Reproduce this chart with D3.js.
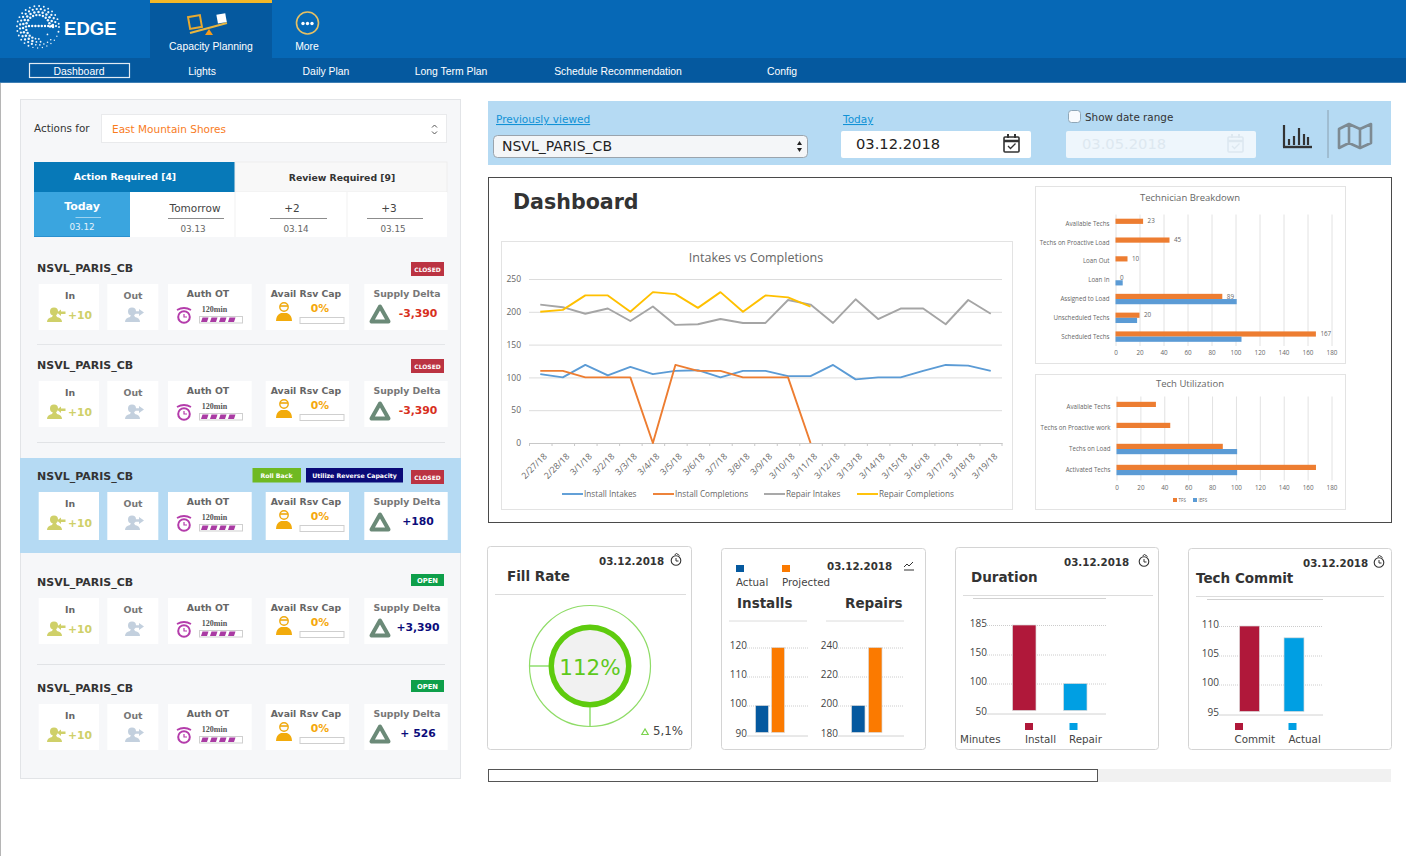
<!DOCTYPE html>
<html><head><meta charset="utf-8">
<script src="https://cdn.jsdelivr.net/npm/d3@7/dist/d3.min.js"></script>
<style>
html,body{margin:0;padding:0;background:#fff;overflow:hidden}
svg{display:block}
.axis text{font-family:"Open Sans",sans-serif}
</style></head><body><svg id="c" width="1406" height="856" viewBox="0 0 1406 856"></svg>
<script>
// ---------- data ----------
const dates=["2/27/18","2/28/18","3/1/18","3/2/18","3/3/18","3/4/18","3/5/18","3/6/18","3/7/18","3/8/18","3/9/18","3/10/18","3/11/18","3/12/18","3/13/18","3/14/18","3/15/18","3/16/18","3/17/18","3/18/18","3/19/18"];
const installIntakes=[105,100,119,103,116,105,110,111,100,110,110,102,102,119,97,100,100,110,119,118,110];
const installCompletions=[110,110,100,100,100,0,119,110,110,100,100,100,0];
const repairIntakes=[211,207,197,205,186,208,180,181,189,183,183,218,211,183,219,189,205,205,181,218,197];
const repairCompletions=[200,203,225,225,200,230,227,206,230,200,225,222,208];
const lineNames=["Install Intakes","Install Completions","Repair Intakes","Repair Completions"];
const lineTicks=[0,50,100,150,200,250];

const breakdownCats=["Available Techs","Techs on Proactive Load","Loan Out","Loan In","Assigned to Load","Unscheduled Techs","Scheduled Techs"];
const breakdownTFS=[23,45,10,0,89,20,167];
const breakdownIEFS=[null,null,null,6,101,18,105];
const utilCats=["Available Techs","Techs on Proactive work","Techs on Load","Activated Techs"];
const utilTFS=[33,45,89,167];
const utilIEFS=[null,null,101,101];
const hTicks=[0,20,40,60,80,100,120,140,160,180];

const fillRate=112;
const fillDelta="5,1%";
const installsTicks=[90,100,110,120], installsVals=[100,120];
const repairsTicks=[180,200,220,240], repairsVals=[200,240];
const durationTicks=[50,100,150,185], durationVals=[185,100], durationCats=["Install","Repair"];
const commitTicks=[95,100,105,110], commitVals=[110,108], commitCats=["Commit","Actual"];

const rowDeltas=["-3,390","-3,390","+180","+3,390","+ 526"];
const rowStatus=["CLOSED","CLOSED","CLOSED","OPEN","OPEN"];
const dayTabs=["Tomorrow","+2","+3"];
const dayDates=["03.13","03.14","03.15"];
const navTop=["Capacity Planning","More"];
const navSub=["Dashboard","Lights","Daily Plan","Long Term Plan","Schedule Recommendation","Config"];

// ---------- helpers ----------
const V='"DejaVu Sans",Verdana,sans-serif', A='"Liberation Sans",Arial,sans-serif', O='"Open Sans",sans-serif';
const svg=d3.select("#c");
function R(p,x,y,w,h,fill,stroke,rx){const r=p.append("rect").attr("x",x).attr("y",y).attr("width",w).attr("height",h).attr("fill",fill||"none");if(stroke)r.attr("stroke",stroke);if(rx)r.attr("rx",rx);return r}
function T(p,x,y,s,size,fill,o){o=o||{};return p.append("text").attr("x",x).attr("y",y).text(s).attr("font-size",size).attr("fill",fill).attr("font-family",o.f||V).attr("font-weight",o.b?"bold":"normal").attr("text-anchor",o.a||"start")}
function L(p,x1,y1,x2,y2,c,w){return p.append("line").attr("x1",x1).attr("y1",y1).attr("x2",x2).attr("y2",y2).attr("stroke",c).attr("stroke-width",w||1)}

// ---------- page frame ----------
L(svg,0.5,82,0.5,856,"#b5b5b5",1);
R(svg,0,0,1406,58,"#0668b6");
R(svg,0,58,1406,24,"#05599f");
L(svg,0,82.5,1406,82.5,"#3f7fb4",1);
R(svg,150,0,122,58,"#05599f");
R(svg,150,0,122,3,"#f4b728");

// logo: dotted "e" globe
const logo=svg.append("g").attr("transform","translate(38,27)");
[[21,.95],[18,1.15],[15,1.25],[12,1.2]].forEach(([r,s],ri)=>{
  d3.range(0,360,ri<2?13:16).forEach(a0=>{
    const a=a0+(ri%2)*6;
    const nearGap=a>2&&a<38;
    if(nearGap&&ri>0)return;
    if(a>38&&a<75&&ri>1)return;
    const rad=a*Math.PI/180;
    logo.append("circle").attr("cx",r*Math.cos(rad)).attr("cy",r*Math.sin(rad))
      .attr("r",a>20&&a<110?s*.72:s).attr("fill","#fff").attr("opacity",.95);
  });
});
d3.range(0,8).forEach(j=>logo.append("circle").attr("cx",-9+j*3.2).attr("cy",-1).attr("r",1.2).attr("fill","#fff"));
T(svg,64,35,"EDGE",18.6,"#fff",{f:A,b:1});

// capacity icon
const ci=svg.append("g");
L(ci,190,33,227,23,"#e8b53f",2.2);
R(ci,189,16,12,12,"none","#e8a92f").attr("stroke-width",2).attr("transform","rotate(-10 195 22)");
R(ci,217,14,9,9,"#fff").attr("transform","rotate(-10 221 18)");
ci.append("path").attr("d","M205 35 l4 -6 l4 6z").attr("fill","#f49b1c");
T(svg,211,50,navTop[0],10.4,"#fff",{f:A,a:"middle"});
svg.append("circle").attr("cx",307.5).attr("cy",23).attr("r",11).attr("fill","none").attr("stroke","#e6c063").attr("stroke-width",1.6);
[-4.5,0,4.5].forEach(d=>svg.append("circle").attr("cx",307.5+d).attr("cy",23.5).attr("r",1.7).attr("fill","#fff"));
T(svg,307,50,navTop[1],10.4,"#fff",{f:A,a:"middle"});
const subX=[79,202,326,451,618,782];
navSub.forEach((s,i)=>T(svg,subX[i],74.5,s,10.4,"#fff",{f:A,a:"middle"}));
R(svg,29.5,63.5,100,14,"none","#e2ebf3").attr("stroke-width",1.2);

// ---------- left panel ----------
R(svg,20.5,99.5,440,679,"#f6f7f9","#e2e4e7");
T(svg,34,132,"Actions for",10.4,"#333");
R(svg,101.5,114.5,345,28,"#fff","#e9eaec");
T(svg,112,132.5,"East Mountain Shores",10.5,"#f97c1e");
svg.append("path").attr("d","M432 127.5 l2.5 -2.5 l2.5 2.5 M432 131.5 l2.5 2.5 l2.5 -2.5").attr("fill","none").attr("stroke","#555").attr("stroke-width",1);
R(svg,34,162,201,30,"#0779b8");
T(svg,125,180,"Action Required [4]",9.3,"#fff",{b:1,a:"middle"});
R(svg,235,162,212,30,"#f8f8f8","#eeeeee");
T(svg,342,181,"Review Required [9]",9.3,"#333",{b:1,a:"middle"});
R(svg,34,192,413,45,"#fff");
R(svg,34,192,96,45,"#3aa5df");
L(svg,34,236.5,130,236.5,"#2a90cf",1);
T(svg,82,210,"Today",11,"#fff",{b:1,a:"middle"});
L(svg,75.5,217.5,101,217.5,"#9ed3f0",1);
T(svg,82,230,"03.12",8.8,"#e4f3fb",{a:"middle"});
L(svg,235,192,235,237,"#f1f1f1",1);L(svg,347,192,347,237,"#f1f1f1",1);
const dayC=[195,292,389], dayL=[[168,224],[270,327],[367,423]], dayD=[193,296,393];
dayTabs.forEach((s,i)=>{
  T(svg,dayC[i],212,s,10.5,"#444",{a:"middle"});
  L(svg,dayL[i][0],218.5,dayL[i][1],218.5,"#8c8c8c",1);
  T(svg,dayD[i],231.5,dayDates[i],8.8,"#666",{a:"middle"});
});
L(svg,37,344.5,445,344.5,"#e4e6e9",1);
L(svg,37,442.5,445,442.5,"#e1e3e6",1);
L(svg,37,664.5,445,664.5,"#e1e3e6",1);
R(svg,20,458,441,95,"#b5daf3");

function personIcon(g,x,y,c,arrowDir){
  g.append("circle").attr("cx",x+8).attr("cy",y+4.5).attr("r",4).attr("fill",c);
  g.append("path").attr("d",`M${x+1} ${y+15} q0 -4 5 -5 l1 -2 h3 l1 2 q5 1 5 5z`).attr("fill",c);
  const ax=x+11;
  g.append("path").attr("d",arrowDir<0
    ?`M${ax} ${y+5.5} l4 -3 v2 h4.5 v2.4 h-4.5 v2z`
    :`M${ax} ${y+4.3} h4 v-2.4 l5 3.6 l-5 3.6 v-2.4 h-4z`).attr("fill",c);
}
function clockIcon(g,x,y){
  g.append("circle").attr("cx",x).attr("cy",y).attr("r",5.8).attr("fill","#fff").attr("stroke","#b43cab").attr("stroke-width",2);
  g.append("path").attr("d",`M${x-7} ${y-7} q7 -4 14 0`).attr("fill","none").attr("stroke","#b43cab").attr("stroke-width",1.8);
  g.append("path").attr("d",`M${x} ${y-3} v3 h3`).attr("fill","none").attr("stroke","#b43cab").attr("stroke-width",1.2);
}
function amberPerson(g,x,y){
  g.append("circle").attr("cx",x).attr("cy",y-5).attr("r",4.2).attr("fill","#fbfbfb").attr("stroke","#efa90d").attr("stroke-width",1.4);
  g.append("path").attr("d",`M${x-8} ${y+9} q0 -6 5 -8 h6 q5 2 5 8z`).attr("fill","#f2ab0c");
  g.append("path").attr("d",`M${x-4} ${y-6} h8`).attr("stroke","#efa90d").attr("stroke-width",1.6);
}
const rowTop=[284,381,492,598,704], rowH=[46,46,48,46,46];
rowTop.forEach((t,i)=>{
  const g=svg.append("g");
  T(g,37,t-12.5,"NSVL_PARIS_CB",11,"#333",{b:1});
  const st=rowStatus[i], closed=st==="CLOSED";
  R(g,411,t-(closed?22:24),33,closed?14:12,closed?"#bb3342":"#0e9f4a");
  T(g,427.5,t-(closed?12.5:15),st,closed?6:6.8,"#fff",{b:1,a:"middle"});
  if(i===2){
    R(g,252.5,t-24,48.5,14.5,"#6fb922");
    T(g,276.5,t-14.5,"Roll Back",6.2,"#fff",{b:1,a:"middle"});
    R(g,306,t-24,97,14.5,"#0a0a78");
    T(g,354.5,t-14.5,"Utilize Reverse Capacity",6.2,"#fff",{b:1,a:"middle"});
  }
  const h=rowH[i];
  [[38.7,60.3],[107.3,51],[168,83.7],[265.7,83.3],[364.3,83.4]].forEach(b=>R(g,b[0],t,b[1],h,"#fff"));
  T(g,70,t+15,"In",9.3,"#666",{b:1,a:"middle"});
  T(g,133,t+15,"Out",9.3,"#777",{b:1,a:"middle"});
  T(g,208,t+13,"Auth OT",9.3,"#666",{b:1,a:"middle"});
  T(g,306,t+13,"Avail Rsv Cap",9.3,"#666",{b:1,a:"middle"});
  T(g,407,t+13,"Supply Delta",9.3,"#777",{b:1,a:"middle"});
  personIcon(g,46,t+23,"#cfd069",-1);
  T(g,68,t+35,"+10",10.8,"#cfd069",{b:1});
  personIcon(g,124,t+23,"#c3d0de",1);
  clockIcon(g,184,t+33);
  T(g,214.5,t+27.5,"120min",8,"#555",{f:'"Liberation Serif",serif',b:1,a:"middle"});
  R(g,199.5,t+32.5,43,6.5,"#fff","#cfcfcf");
  d3.range(4).forEach(k=>g.append("path").attr("d",`M${201+k*9} ${t+38} l1.5 -4.5 h6 l-1.5 4.5z`).attr("fill","#a93ba3"));
  amberPerson(g,284,t+28);
  T(g,320,t+28,"0%",10.8,"#f5a80c",{b:1,a:"middle"});
  R(g,300,t+33.5,44,6,"#fff","#cfcfcf");
  g.append("path").attr("d",`M380 ${t+22.5} l-8.5 15 h17z`).attr("fill","none").attr("stroke","#6b8a78").attr("stroke-width",4).attr("stroke-linejoin","round");
  T(g,418,t+33,rowDeltas[i],10.8,i<2?"#d8301e":"#0b0b7a",{b:1,a:"middle"});
});

// ---------- filter bar ----------
R(svg,488,101,903,64,"#b5daf3");
T(svg,496,123,"Previously viewed",10.5,"#1192d6").attr("text-decoration","underline");
R(svg,493.5,135.5,314,22,"#f4f6f8","#9aa4ad",4);
T(svg,502,151,"NSVL_PARIS_CB",14,"#222");
svg.append("path").attr("d","M797 145 l2.5 -4 l2.5 4z M797 148 l2.5 4 l2.5 -4z").attr("fill","#222");
T(svg,843,123,"Today",10.5,"#1192d6").attr("text-decoration","underline");
R(svg,841,131,190,27,"#fff",null,2);
T(svg,856,149,"03.12.2018",14.7,"#222");
const cal=(x,c,o)=>{const g=svg.append("g").attr("opacity",o);R(g,x,137,15,15,"none",c,1).attr("stroke-width",1.6);L(g,x,141,x+15,141,c,2.5);L(g,x+4,134,x+4,138,c,2);L(g,x+11,134,x+11,138,c,2);g.append("path").attr("d",`M${x+4} 146 l2.5 2.5 l5 -5`).attr("fill","none").attr("stroke",c).attr("stroke-width",1.3)};
cal(1004,"#333",1);
R(svg,1068.5,110.5,12,12,"#f8fbfe","#8fa7b8",3);
T(svg,1085,121,"Show date range",10.4,"#333");
R(svg,1066,131,190,27,"#eef6fc",null,2);
T(svg,1082,149,"03.05.2018",14.7,"#dde8f0");
cal(1228,"#dde8f0",1);
L(svg,1284,125,1284,147,"#333",2.2);L(svg,1283,147,1312,147,"#333",2.4);
[[1289,139],[1294,136],[1299,128],[1304,134],[1308,137]].forEach(b=>L(svg,b[0],b[1],b[0],145,"#333",2.2));
L(svg,1328,110,1328,158,"#8aa0b0",1);
svg.append("path").attr("d","M1339 129 l10 -5 l11 5 l11 -5 v19 l-11 5 l-11 -5 l-10 5z M1349 124 v19 M1360 129 v19").attr("fill","none").attr("stroke","#7d8a92").attr("stroke-width",2.6).attr("stroke-linejoin","round");

// ---------- dashboard box ----------
R(svg,488.5,177.5,903,345,"#fff","#4a4a4a");
T(svg,513,209,"Dashboard",20.6,"#333",{b:1});

// line chart
R(svg,501.5,241.5,511,268,"#fff","#e3e3e3");
T(svg,756,262,"Intakes vs Completions",12.5,"#666",{f:O,a:"middle"});
const lx=d3.scaleBand().domain(dates).range([529,1002]);
const ly=d3.scaleLinear().domain([0,250]).range([443,279]);
const yAxisG=svg.append("g").attr("class","axis").attr("transform","translate(529,0)")
  .call(d3.axisLeft(ly).tickValues(lineTicks).tickSize(-473).tickPadding(8));
yAxisG.select(".domain").remove();
yAxisG.selectAll("line").attr("stroke","#dcdcdc");
yAxisG.selectAll("text").attr("fill","#666").attr("font-size",8.5);
yAxisG.selectAll(".tick").filter(d=>d===0).select("line").attr("stroke","#c8c8c8");
const xAxisG=svg.append("g").attr("class","axis").attr("transform","translate(0,443)")
  .call(d3.axisBottom(lx).tickSize(0).tickPadding(9));
xAxisG.select(".domain").attr("stroke","#c8c8c8");
xAxisG.selectAll("text").attr("fill","#666").attr("font-size",8.8).attr("text-anchor","end").attr("transform","rotate(-45) translate(-4.8,.8)").attr("dy","0.6em");
dates.forEach(d=>L(svg,lx(d)+.5,443,lx(d)+.5,446,"#c8c8c8",1));
L(svg,1002,443,1002,446,"#c8c8c8",1);
const lineColors=["#5b9bd5","#ed7d31","#a5a5a5","#ffc000"];
const lineGen=d3.line().x((v,i)=>lx(dates[i])+lx.bandwidth()/2).y(v=>ly(v));
[installIntakes,installCompletions,repairIntakes,repairCompletions].forEach((s,i)=>{
  svg.append("path").datum(s).attr("d",lineGen).attr("fill","none").attr("stroke",lineColors[i]).attr("stroke-width",1.9).attr("stroke-linejoin","round");
});
[562,653,764,857].forEach((x,i)=>{
  L(svg,x,494,x+21,494,lineColors[i],1.9);
  T(svg,x+22,497,lineNames[i],8.2,"#666",{f:O});
});

// horizontal bar charts
function hbars(opt){
  R(svg,opt.card[0]+.5,opt.card[1]+.5,opt.card[2],opt.card[3],"#fff","#e3e3e3");
  T(svg,opt.cx,opt.ty,opt.title,9.5,"#666",{f:O,a:"middle"});
  const x=d3.scaleLinear().domain([0,180]).range(opt.xr);
  const y=d3.scaleBand().domain(opt.cats).range(opt.yr);
  const xa=svg.append("g").attr("class","axis").attr("transform",`translate(0,${opt.yr[1]})`)
    .call(d3.axisBottom(x).tickValues(hTicks).tickSize(-(opt.yr[1]-opt.yr[0])).tickPadding(5));
  xa.select(".domain").remove();
  xa.selectAll("line").attr("stroke","#e2e2e2");
  xa.selectAll("text").attr("fill","#666").attr("font-size",6.3);
  const ya=svg.append("g").attr("class","axis").attr("transform",`translate(${opt.xr[0]},0)`)
    .call(d3.axisLeft(y).tickSize(0).tickPadding(6));
  ya.select(".domain").remove();
  ya.selectAll("text").attr("fill","#666").attr("font-size",6.2);
  const bh=5.2;
  const by=c=>y(c)+y.bandwidth()/2;
  svg.selectAll(null).data(opt.cats.map((c,i)=>[c,opt.tfs[i]])).enter().append("rect")
    .attr("x",x(0)).attr("y",d=>by(d[0])-bh).attr("width",d=>x(d[1])-x(0)).attr("height",bh).attr("fill","#ed7d31");
  svg.selectAll(null).data(opt.cats.map((c,i)=>[c,opt.iefs[i]]).filter(d=>d[1]!=null)).enter().append("rect")
    .attr("x",x(0)).attr("y",d=>by(d[0])).attr("width",d=>x(d[1])-x(0)).attr("height",bh).attr("fill","#5b9bd5");
  if(opt.labels) opt.cats.forEach((c,i)=>T(svg,x(opt.tfs[i])+4.5,by(c)-.5,opt.tfs[i],6.3,"#666",{f:O}));
}
hbars({card:[1035,186,310,177],title:"Technician Breakdown",cx:1190,ty:201,cats:breakdownCats,tfs:breakdownTFS,iefs:breakdownIEFS,xr:[1115.5,1331.5],yr:[214.5,346],labels:true});
hbars({card:[1035,374,310,135],title:"Tech Utilization",cx:1190,ty:387,cats:utilCats,tfs:utilTFS,iefs:utilIEFS,xr:[1116.5,1331.5],yr:[396.5,480.5],labels:false});
R(svg,1173,498,4,4,"#ed7d31");T(svg,1178.5,502,"TFS",4.6,"#666",{f:O});
R(svg,1193,498,4,4,"#5b9bd5");T(svg,1198.5,502,"IEFS",4.6,"#666",{f:O});

// ---------- KPI cards ----------
function card(x,y,w,h){R(svg,x+.5,y+.5,w,h,"#fff","#d4d4d4",3)}
function watch(x,y){
  svg.append("circle").attr("cx",x).attr("cy",y+.5).attr("r",4.8).attr("fill","none").attr("stroke","#333").attr("stroke-width",1.1);
  svg.append("path").attr("d",`M${x-1.5} ${y-5} l2 -1.5 l3 2 M${x} ${y-2} v3 h2.5`).attr("fill","none").attr("stroke","#333").attr("stroke-width",1);
}
card(487,546,204,203);
T(svg,599,565,"03.12.2018",10.3,"#333",{b:1});watch(676,560);
T(svg,507,581,"Fill Rate",13.5,"#333",{b:1});
L(svg,495,594.5,686,594.5,"#dcdcdc",1);
const gauge=svg.append("g").attr("transform","translate(590,666)");
gauge.append("circle").attr("r",60.5).attr("fill","#fff").attr("stroke","#8fdc67").attr("stroke-width",1.2);
gauge.append("circle").attr("r",38).attr("fill","#f1f1f1");
gauge.append("path").attr("d",d3.arc().innerRadius(36).outerRadius(41.5).startAngle(0).endAngle(2*Math.PI*Math.min(fillRate,100)/100)).attr("fill","#5ecb0e");
L(gauge,-60,0,-41,0,"#74d64a",1.2);L(gauge,0,41,0,60,"#74d64a",1.2);
T(gauge,0,8.5,fillRate+"%",21.5,"#5ec91c",{a:"middle"});
svg.append("path").attr("d","M645 729 l-3.2 5.5 h6.4z").attr("fill","none").attr("stroke","#7bd34e").attr("stroke-width",1.2);
T(svg,653,735,fillDelta,11.8,"#444");

function vbars(opt){
  const y=d3.scaleLinear().domain(opt.ticks).range(opt.yr);
  const a=svg.append("g").attr("class","axis").attr("transform",`translate(${opt.g0},0)`)
    .call(d3.axisLeft(y).tickValues(opt.ticks).tickSize(-(opt.g1-opt.g0)).tickPadding(0));
  a.select(".domain").remove();
  a.selectAll("line").attr("stroke","#ccc").attr("stroke-dasharray","1 1");
  a.selectAll(".tick").filter(d=>d===opt.ticks[0]).select("line").attr("stroke","#d2d2d2").attr("stroke-dasharray",null);
  a.selectAll("text").attr("fill","#444").attr("font-size",10).attr("font-family",V).attr("dy","0.1em");
  svg.selectAll(null).data(opt.vals).enter().append("rect")
    .attr("x",(d,i)=>opt.xs[i]).attr("width",opt.bw)
    .attr("y",d=>y(d)).attr("height",d=>y(opt.ticks[0])-3-y(d))
    .attr("fill",(d,i)=>opt.colors[i]).attr("stroke","#dadada").attr("stroke-width",.7);
}
card(721,548,204,201);
R(svg,736,565,8,7,"#05599f");R(svg,782,565,8,7,"#fb7a00");
T(svg,736,586,"Actual",10.3,"#444");T(svg,782,586,"Projected",10.3,"#444");
T(svg,827,570,"03.12.2018",10.3,"#333",{b:1});
svg.append("path").attr("d","M904 570 h10 M904 567 l3 -3 l2 2 l4 -4").attr("fill","none").attr("stroke","#333").attr("stroke-width",1);
T(svg,737,608,"Installs",13.5,"#333",{b:1});T(svg,845,608,"Repairs",13.5,"#333",{b:1});
L(svg,729,621,807,621,"#dcdcdc",1);L(svg,826,621,904,621,"#dcdcdc",1);
const c2=["#05599f","#fb7a00"];
vbars({ticks:installsTicks,yr:[735.5,705.5,676.5,647.5],g0:747,g1:808,vals:installsVals,xs:[755.5,771.5],bw:13,colors:c2});
vbars({ticks:repairsTicks,yr:[735.5,705.5,676.5,647.5],g0:838,g1:904,vals:repairsVals,xs:[851.5,868.5],bw:13.5,colors:c2});

card(955,547,203,202);
T(svg,1064,566,"03.12.2018",10.3,"#333",{b:1});watch(1144,561);
T(svg,971,582,"Duration",13.5,"#333",{b:1});
L(svg,963,595.5,1153,595.5,"#dcdcdc",1);L(svg,973,598.5,1106,598.5,"#d2d2d2",1);
const c3=["#b0183a","#009fe3"];
vbars({ticks:durationTicks,yr:[713.5,683.5,654.5,625],g0:987,g1:1106,vals:durationVals,xs:[1012.5,1063.5],bw:23.5,colors:c3});
R(svg,1025,723,8,7,c3[0]);R(svg,1069.5,723,8,7,c3[1]);
T(svg,960,743,"Minutes",10.3,"#444");T(svg,1025,743,durationCats[0],10.3,"#444");T(svg,1069,743,durationCats[1],10.3,"#444");

card(1188,548,203,201);
T(svg,1303,567,"03.12.2018",10.3,"#333",{b:1});watch(1379,562);
T(svg,1196,583,"Tech Commit",13.5,"#333",{b:1});
L(svg,1196,596.5,1384,596.5,"#dcdcdc",1);L(svg,1207,599.5,1323,599.5,"#d2d2d2",1);
vbars({ticks:commitTicks,yr:[714.5,684.5,655.5,626],g0:1219,g1:1323,vals:commitVals,xs:[1239.5,1284],bw:20,colors:c3});
R(svg,1235,723,8,7,c3[0]);R(svg,1288.5,723,8,7,c3[1]);
T(svg,1234.5,743,commitCats[0],10.3,"#444");T(svg,1288.5,743,commitCats[1],10.3,"#444");

// scrollbar
R(svg,1098,769,293,13,"#f1f1f1");
R(svg,488.5,769.5,609,12,"#fff","#555");
</script></body></html>
